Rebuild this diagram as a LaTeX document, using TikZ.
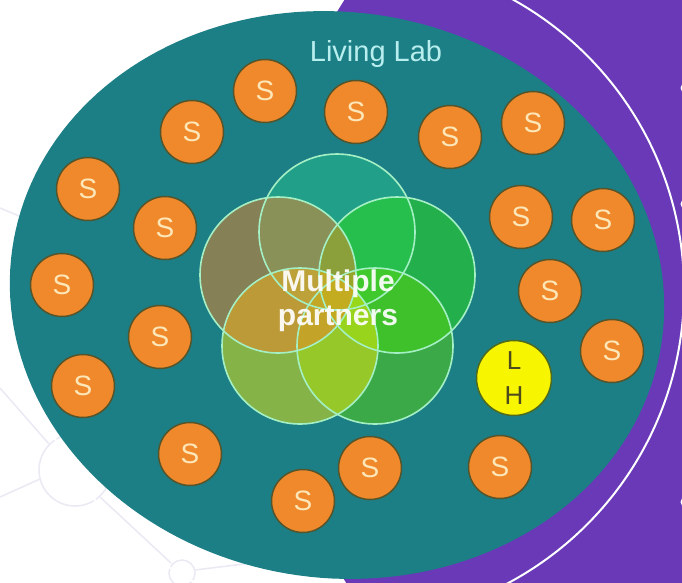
\documentclass[tikz,border=0pt]{standalone}
\usepackage{fontspec}
\setmainfont{Liberation Sans}
\definecolor{purplebg}{HTML}{6939B8}
\definecolor{tealc}{HTML}{1C7F86}
\definecolor{orangec}{HTML}{F0892B}
\definecolor{sborder}{HTML}{55552C}
\definecolor{stext}{HTML}{FDE7B8}
\definecolor{yellowc}{HTML}{F8F500}
\definecolor{lhborder}{HTML}{4F6A1E}
\definecolor{lhtext}{HTML}{4D4A1E}
\definecolor{netc}{HTML}{EAE9F4}
\definecolor{vtop}{HTML}{29C08C}
\definecolor{vright}{HTML}{2BE014}
\definecolor{vbr}{HTML}{5BD40C}
\definecolor{vbl}{HTML}{F1E80C}
\definecolor{vleft}{HTML}{F08228}
\definecolor{vline}{HTML}{A4F0C4}
\definecolor{lltext}{HTML}{B8EEEE}
\tikzset{
  scircle/.style={circle, minimum size=63pt, inner sep=0pt, fill=orangec, draw=sborder, line width=1.5pt,
    text=stext, font=\fontsize{28}{34}\selectfont},
  lhcircle/.style={circle, minimum size=75pt, inner sep=0pt, fill=yellowc, draw=lhborder, line width=1.5pt,
    text=lhtext, align=center, font=\fontsize{26}{35}\selectfont},
  netline/.style={draw=netc, line width=1.5pt},
  vring/.style={draw=vline, line width=1.6pt},
  mptext/.style={text=white, text opacity=0.92, font=\bfseries\fontsize{30}{34}\selectfont, inner sep=0pt},
  lltextstyle/.style={text=lltext, font=\fontsize{29}{34}\selectfont, inner sep=0pt}
}
\begin{document}
\begin{tikzpicture}[x=1pt,y=-1pt]
\useasboundingbox (0,0) rectangle (682,582);
\clip (0,0) rectangle (682,582);
\fill[white] (0,0) rectangle (682,582);
% faint network in background
\draw[netline] (75,470) circle[radius=36];
\draw[netline] (0,388) -- (49,444);
\draw[netline] (0,497) -- (40,479);
\draw[netline] (100,497) -- (171,563);
\draw[netline] (182,573) circle[radius=13];
\draw[netline] (195,570) -- (260,562);
\draw[netline] (0,208) -- (24,218);
% purple background
\fill[purplebg] (800,290) circle[radius=540];
\draw[white, line width=2pt] (352,290) circle[radius=332];
\fill[white] (686,88) circle[radius=5.5];
\fill[white] (686,204) circle[radius=5.5];
\fill[white] (686,502) circle[radius=5.5];
% living lab ellipse (tilted: right end lower)
\fill[tealc] plot[domain=0:360, samples=181]
  ({337 + 328*cos(\x)*cos(8) - 283*sin(\x)*sin(8)}, {295 + 328*cos(\x)*sin(8) + 283*sin(\x)*cos(8)}) -- cycle;
\node[lltextstyle, anchor=base] (ll) at (376,61) {Living Lab};
% partners venn
\begin{scope}[fill opacity=0.5]
\fill[vtop] (337,232) circle[radius=78];
\fill[vright] (397,275) circle[radius=78];
\fill[vbr] (375,346) circle[radius=78];
\fill[vbl] (300,346) circle[radius=78];
\fill[vleft] (278,275) circle[radius=78];
\end{scope}
\foreach \p in {(337,232),(397,275),(375,346),(300,346),(278,275)}
  \draw[vring] \p circle[radius=78];
\node[mptext, anchor=base] (mp1) at (338,291) {Multiple};
\node[mptext, anchor=base] (mp2) at (338,325) {partners};
% stakeholders
\node[scircle] (s1) at (265,91) {S};
\node[scircle] (s2) at (356,112) {S};
\node[scircle] (s3) at (192,132) {S};
\node[scircle] (s4) at (450,137) {S};
\node[scircle] (s5) at (533,123) {S};
\node[scircle] (s6) at (88,189) {S};
\node[scircle] (s7) at (165,228) {S};
\node[scircle] (s8) at (521,217) {S};
\node[scircle] (s9) at (603,220) {S};
\node[scircle] (s10) at (62,285) {S};
\node[scircle] (s11) at (550,291) {S};
\node[scircle] (s12) at (160,337) {S};
\node[scircle] (s13) at (612,351) {S};
\node[scircle] (s14) at (83,386) {S};
\node[scircle] (s15) at (190,454) {S};
\node[scircle] (s16) at (370,468) {S};
\node[scircle] (s17) at (303,501) {S};
\node[scircle] (s18) at (500,467) {S};
\node[lhcircle] (lh) at (514,378) {L\\H};
\end{tikzpicture}
\end{document}
